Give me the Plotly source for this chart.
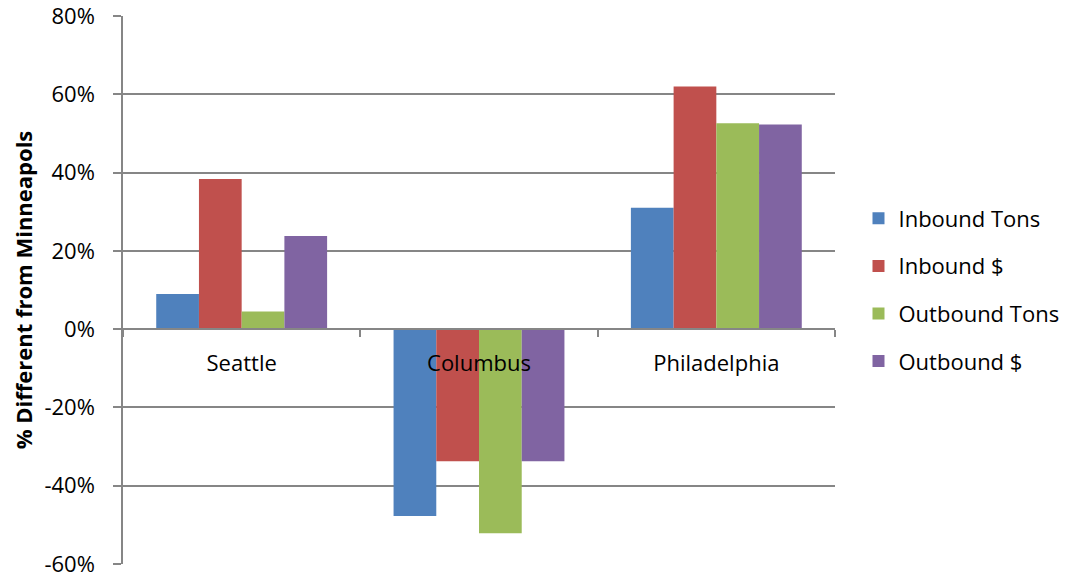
import plotly.graph_objects as go

categories = ["Seattle", "Columbus", "Philadelphia"]
# values in percent
inbound_tons = [9.0, -47.8, 31.0]
inbound_usd = [38.4, -33.8, 62.0]
outbound_tons = [4.5, -52.2, 52.6]
outbound_usd = [23.8, -33.8, 52.3]

series = [
    ("Inbound Tons", inbound_tons, "#4F81BD"),
    ("Inbound $", inbound_usd, "#C0504D"),
    ("Outbound Tons", outbound_tons, "#9BBB59"),
    ("Outbound $", outbound_usd, "#8064A2"),
]

y_ticks = [-60, -40, -20, 0, 20, 40, 60, 80]
y_tick_labels = ["-60%", "-40%", "-20%", "0%", "20%", "40%", "60%", "80%"]

FONT = "Open Sans"
GRID = "#868686"

fig = go.Figure()
for i, (name, vals, color) in enumerate(series):
    fig.add_trace(go.Bar(
        x=categories, y=vals, name=name, legendgroup=f"g{i}",
        marker=dict(color=color, line=dict(width=0)),
    ))

y_min, y_max = -60.05, 80.05
zero_pos = (0 - y_min) / (y_max - y_min)

# page body adds an 8px offset; figure is sized to compensate
fig.update_layout(
    width=1065, height=569,
    margin=dict(l=115, r=238, t=8, b=13, autoexpand=False),
    paper_bgcolor="white", plot_bgcolor="white",
    barmode="group", bargap=0.28, bargroupgap=0,
    font=dict(family=FONT, size=22, color="black"),
    showlegend=True,
    legend=dict(
        x=1.033, xanchor="left", y=0.5, yanchor="middle",
        font=dict(family=FONT, size=22, color="black"),
        traceorder="grouped", tracegroupgap=16,
        bgcolor="rgba(0,0,0,0)",
    ),
    xaxis=dict(
        anchor="free", position=zero_pos, automargin=False,
        showgrid=False, zeroline=False,
        showline=True, linecolor=GRID, linewidth=1.5,
        ticks="outside", tickson="boundaries", ticklen=7, tickcolor=GRID, tickwidth=1.5,
        tickfont=dict(family=FONT, size=22, color="black"),
        ticklabelstandoff=15,
        layer="above traces",
    ),
    yaxis=dict(
        range=[y_min, y_max], automargin=False,
        tickvals=y_ticks, ticktext=y_tick_labels,
        showgrid=True, gridcolor=GRID, gridwidth=1.5,
        zeroline=False,
        showline=True, linecolor=GRID, linewidth=1.5,
        ticks="outside", ticklen=8, tickcolor=GRID, tickwidth=1.5,
        tickfont=dict(family=FONT, size=22, color="black"),
        ticklabelstandoff=14,
        ticklabeloverflow="allow",
        title=dict(text="<b>% Different from Minneapols</b>",
                   font=dict(family=FONT, size=22, color="black"), standoff=30),
    ),
)

fig.write_html("out.html")
